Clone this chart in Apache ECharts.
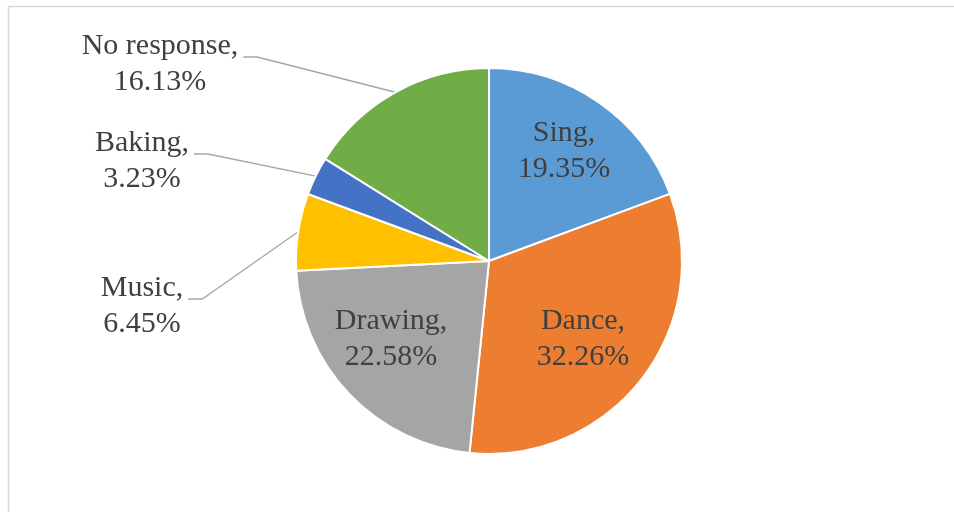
<!DOCTYPE html>
<html>
<head>
<meta charset="utf-8">
<script src="https://cdn.jsdelivr.net/npm/echarts@6/dist/echarts.min.js"></script>
<style>
  html, body { margin: 0; padding: 0; background: #fff; }
  #chart { width: 954px; height: 512px; }
</style>
</head>
<body>
<div id="chart"></div>
<script>
// data
const categories = ['Sing', 'Dance', 'Drawing', 'Music', 'Baking', 'No response'];
const shares = [19.35, 32.26, 22.58, 6.45, 3.23, 16.13];
const colors = ['#5B9BD5', '#ED7D31', '#A5A5A5', '#FFC000', '#4472C4', '#70AD47'];
const insideLabels = ['Sing', 'Dance', 'Drawing'];

const cx = 489, cy = 261;
// center of each label's text block
const labelPos = {
  'Sing': [564, 151],
  'Dance': [583, 339],
  'Drawing': [391, 339],
  'No response': [160, 64],
  'Baking': [142, 161],
  'Music': [142, 306]
};

const myChart = echarts.init(document.getElementById('chart'));

myChart.setOption({
  animation: false,
  graphic: [{
    type: 'rect',
    silent: true,
    shape: { x: 8.5, y: 6.5, width: 1000, height: 1000 },
    style: { fill: 'none', stroke: '#d9d9d9', lineWidth: 1.5 }
  }],
  series: [{
    type: 'pie',
    center: [cx, cy],
    radius: 193,
    startAngle: 90,
    clockwise: true,
    avoidLabelOverlap: false,
    itemStyle: { borderColor: '#fff', borderWidth: 2 },
    label: {
      fontFamily: '"Liberation Serif", "Times New Roman", serif',
      fontSize: 30,
      lineHeight: 36,
      color: '#404040',
      align: 'center',
      formatter: p => p.name + ',\n' + p.value.toFixed(2) + '%'
    },
    labelLine: {
      show: true,
      lineStyle: { color: '#a6a6a6', width: 1.3 }
    },
    emphasis: { disabled: true },
    data: categories.map((c, i) => {
      const inside = insideLabels.includes(c);
      return {
        name: c,
        value: shares[i],
        itemStyle: { color: colors[i] },
        label: { position: inside ? 'inside' : 'outside' },
        labelLine: { show: !inside }
      };
    }),
    labelLayout: function (params) {
      const name = categories[params.dataIndex];
      const r = params.labelRect;
      const pos = labelPos[name];
      if (insideLabels.includes(name)) {
        return { x: pos[0], y: pos[1], align: 'center', verticalAlign: 'middle' };
      }
      const edge = params.labelLinePoints ? params.labelLinePoints[0] : [cx, cy];
      const right = pos[0] + r.width / 2 + 5;
      const yLine = pos[1] - 7;
      return {
        x: pos[0],
        y: pos[1],
        align: 'center',
        verticalAlign: 'middle',
        labelLinePoints: [edge, [right + 14, yLine], [right, yLine]]
      };
    }
  }]
});
</script>
</body>
</html>
